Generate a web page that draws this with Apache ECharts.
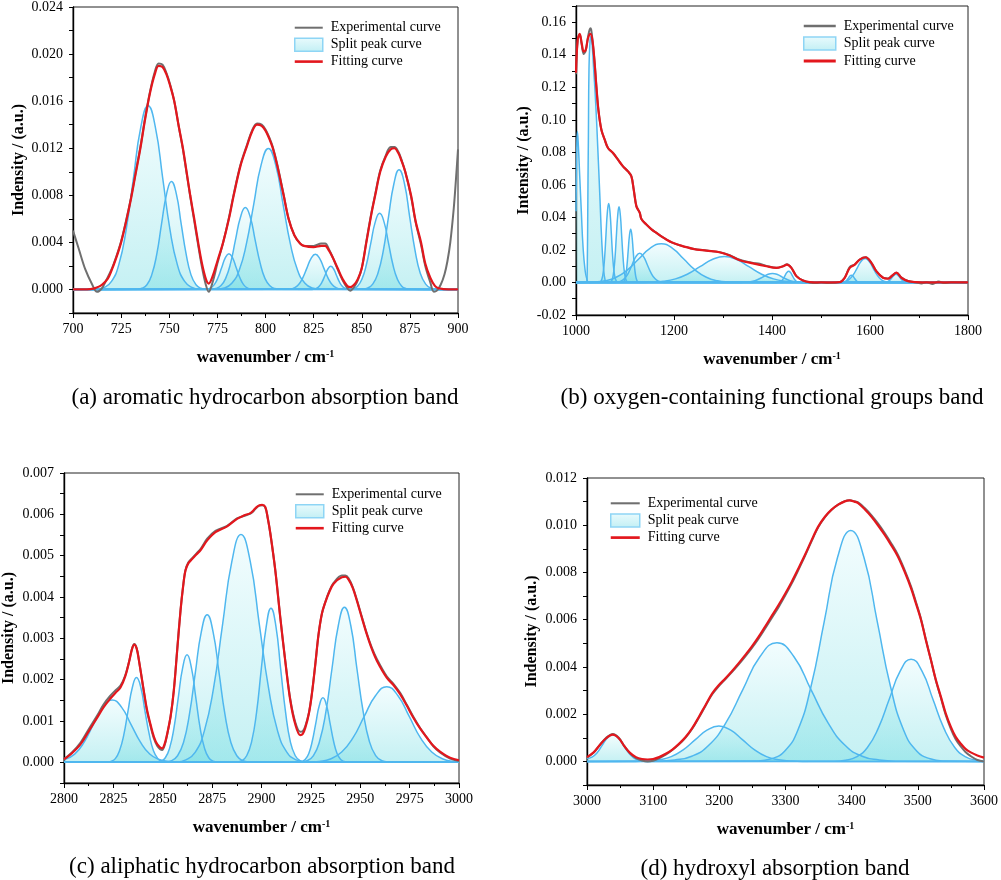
<!DOCTYPE html>
<html>
<head>
<meta charset="utf-8">
<script src="https://cdn.jsdelivr.net/npm/echarts@6/dist/echarts.min.js"></script>
<style>html,body{margin:0;padding:0;background:#fff}#c{width:1001px;height:880px}</style>
</head>
<body>
<div id="c"></div>
<script>
// ---------------- Panel (a): 700-900 cm-1 ----------------
const aFit = [[700,0],[705,0],[709,0.00003],[712,0.00015],[715,0.0004],[718,0.0009],[720,0.0016],[722.5,0.0027],[725,0.0040],[727.5,0.0057],[730,0.0076],[732.5,0.0098],[735,0.0120],[737.5,0.0145],[740,0.0167],[742.5,0.0183],[744.5,0.0190],[746.5,0.0189],[748.5,0.0183],[750.5,0.0173],[752.6,0.0160],[755,0.0138],[757.1,0.0120],[759,0.0100],[760.9,0.0080],[763,0.0060],[765,0.0040],[767,0.0022],[769,0.0009],[770.5,0.0005],[772.5,0.0011],[775,0.0024],[778,0.0040],[781,0.0060],[783.5,0.0080],[787,0.0105],[790.4,0.0122],[793,0.0134],[795.6,0.0140],[798,0.0139],[800,0.0135],[802,0.0128],[803.8,0.0120],[806,0.0106],[809.4,0.0080],[812,0.0060],[815,0.0046],[818,0.0039],[820,0.0037],[825,0.0036],[829,0.0037],[831,0.0037],[833,0.0033],[835,0.0027],[837.5,0.0018],[840,0.0009],[842.5,0.0003],[844,0.0002],[846,0.0004],[848,0.0009],[850,0.0018],[852.4,0.0040],[855,0.0064],[857,0.0080],[859.6,0.0100],[862.5,0.0113],[865,0.0119],[867,0.0120],[869,0.0116],[870.5,0.0110],[872.6,0.0100],[875.6,0.0080],[878,0.0058],[880.8,0.0040],[883,0.0022],[885.6,0.0010],[888,0.0003],[890,0.0001],[895,0],[900,0]];
const aExp = [[700,0.005],[702.9,0.0035],[706.4,0.0017],[709.9,0.00045],[712.5,-0.0002],[715,0.0001],[717,0.0007],[720,0.0017],[722.5,0.0028],[725,0.0041],[727.5,0.0058],[730,0.0077],[732.5,0.0099],[735,0.0121],[737.5,0.0146],[740,0.0168],[742.5,0.0185],[744.5,0.0192],[746.5,0.0191],[748.5,0.0184],[750.5,0.0174],[752.6,0.0160],[755,0.0138],[757.1,0.0119],[759,0.0099],[760.9,0.0079],[763,0.0058],[765,0.0038],[767,0.0019],[769,0.0004],[770.5,-0.0002],[772.5,0.0006],[775,0.0022],[778,0.0040],[781,0.0061],[783.5,0.0081],[787,0.0106],[790.4,0.0123],[793,0.0135],[795.6,0.0141],[798,0.0140],[800,0.0136],[802,0.0129],[803.8,0.0121],[806,0.0107],[809.4,0.0081],[812,0.0060],[815,0.0046],[818,0.0039],[820,0.0037],[825,0.0037],[829,0.0039],[831,0.0039],[833,0.0034],[835,0.0027],[837.5,0.0017],[840,0.0008],[842.5,0.0001],[844,-0.0001],[846,0.0002],[848,0.0008],[850,0.0018],[852.4,0.0041],[855,0.0065],[857,0.0081],[859.6,0.0101],[862.5,0.0114],[865,0.0121],[867,0.0121],[869,0.0117],[870.5,0.0111],[872.6,0.0100],[875.6,0.0079],[878,0.0057],[880.8,0.0038],[883,0.002],[885.6,0.0006],[887.5,-0.0002],[889,-0.0001],[891,0.0004],[893,0.0013],[894.5,0.0024],[896,0.004],[897.8,0.0069],[899,0.0095],[900,0.0119]];
const aPeak1 = [[700,0],[712.4,0.00003],[716.2,0.00017],[720.0,0.00068],[723.8,0.00211],[727.6,0.00507],[731.4,0.00946],[735.2,0.01377],[739.0,0.0156],[742.8,0.01377],[746.6,0.00946],[750.4,0.00507],[754.2,0.00211],[758.0,0.00068],[761.8,0.00017],[765.6,0.00003],[900,0]];
const aPeak2 = [[700,0],[733.3,0.00002],[735.8,0.0001],[738.4,0.0004],[740.9,0.00124],[743.5,0.00298],[746.0,0.00557],[748.6,0.0081],[751.1,0.00918],[753.7,0.0081],[756.2,0.00557],[758.8,0.00298],[761.3,0.00124],[763.9,0.0004],[766.4,0.0001],[769.0,0.00002],[900,0]];
const aPeak3 = [[700,0],[767.7,0.00001],[769.6,0.00003],[771.5,0.00013],[773.4,0.00041],[775.3,0.00099],[777.2,0.00184],[779.1,0.00268],[781.0,0.00304],[782.9,0.00268],[784.8,0.00184],[786.7,0.00099],[788.6,0.00041],[790.5,0.00013],[792.4,0.00003],[794.3,0.00001],[900,0]];
const aPeak4 = [[700,0],[771.7,0.00002],[774.2,0.00008],[776.8,0.00031],[779.3,0.00094],[781.9,0.00226],[784.4,0.00422],[787.0,0.00614],[789.5,0.00696],[792.1,0.00614],[794.6,0.00422],[797.2,0.00226],[799.7,0.00094],[802.3,0.00031],[804.8,0.00008],[807.4,0.00002],[900,0]];
const aPeak5 = [[700,0],[774.9,0.00003],[778.7,0.00013],[782.5,0.00053],[786.3,0.00162],[790.1,0.00389],[793.9,0.00726],[797.7,0.01056],[801.5,0.01197],[805.3,0.01056],[809.1,0.00726],[812.9,0.00389],[816.7,0.00162],[820.5,0.00053],[824.3,0.00013],[828.1,0.00003],[900,0]];
const aPeak6 = [[700,0],[810.5,0.00001],[812.7,0.00003],[814.9,0.00013],[817.1,0.0004],[819.3,0.00097],[821.5,0.00181],[823.7,0.00264],[825.9,0.00299],[828.1,0.00264],[830.3,0.00181],[832.5,0.00097],[834.7,0.0004],[836.9,0.00013],[839.1,0.00003],[841.3,0.00001],[900,0]];
const aPeak7 = [[700,0],[823.4,0],[824.9,0.00002],[826.4,0.00009],[827.9,0.00027],[829.4,0.00064],[830.9,0.00119],[832.4,0.00174],[833.9,0.00197],[835.4,0.00174],[836.9,0.00119],[838.4,0.00064],[839.9,0.00027],[841.4,0.00009],[842.9,0.00002],[844.4,0],[900,0]];
const aPeak8 = [[700,0],[843.2,0.00001],[845.5,0.00007],[847.8,0.00028],[850.1,0.00088],[852.4,0.0021],[854.7,0.00393],[857.0,0.00572],[859.3,0.00648],[861.6,0.00572],[863.9,0.00393],[866.2,0.0021],[868.5,0.00088],[870.8,0.00028],[873.1,0.00007],[875.4,0.00001],[900,0]];
const aPeak9 = [[700,0],[850.2,0.00002],[852.9,0.00011],[855.7,0.00045],[858.4,0.00138],[861.2,0.0033],[863.9,0.00617],[866.7,0.00898],[869.4,0.01017],[872.2,0.00898],[874.9,0.00617],[877.7,0.0033],[880.4,0.00138],[883.2,0.00045],[885.9,0.00011],[888.7,0.00002],[900,0]];

// ---------------- Panel (b): 1000-1800 cm-1 ----------------
const bFit = [[1000,0.129],[1003.4,0.1492],[1007.6,0.1529],[1011.6,0.1471],[1015.7,0.142],[1019.8,0.143],[1024.5,0.1502],[1029.3,0.1529],[1033.4,0.1492],[1037.5,0.1369],[1041.6,0.1205],[1045.7,0.1062],[1051.8,0.0939],[1058.6,0.0878],[1065.3,0.0827],[1075.5,0.0796],[1085.7,0.0755],[1095.9,0.0714],[1106.1,0.0683],[1113,0.0653],[1117.8,0.0571],[1123.3,0.0468],[1130,0.043],[1133.5,0.039],[1143.7,0.0356],[1154,0.0327],[1164.1,0.0305],[1175,0.0282],[1184.5,0.0264],[1195,0.0247],[1211.6,0.0229],[1238.8,0.0207],[1266.1,0.0196],[1293.3,0.0186],[1313.7,0.0166],[1334.1,0.0137],[1361.2,0.0117],[1388.6,0.010],[1409,0.009],[1422.5,0.010],[1430.6,0.011],[1439.6,0.009],[1449.8,0.0039],[1463.3,0.0012],[1477,0.0002],[1500,0],[1538.2,0.0002],[1548.4,0.0029],[1558.6,0.009],[1568.8,0.011],[1579,0.0141],[1591.2,0.0155],[1602.8,0.0121],[1613,0.0069],[1626.5,0.0029],[1636.7,0.0023],[1645.7,0.0043],[1653.9,0.006],[1664.1,0.0029],[1677.6,0.0008],[1694.7,0.0002],[1720,0],[1800,0]];
const bExp = [[1000,0.128],[1003.4,0.149],[1007.6,0.1525],[1011.6,0.1465],[1015.7,0.1405],[1019.8,0.1425],[1024.5,0.151],[1029.3,0.1563],[1031,0.1555],[1033.4,0.1495],[1037.5,0.137],[1041.6,0.1205],[1045.7,0.1062],[1051.8,0.0939],[1058.6,0.0878],[1065.3,0.0827],[1075.5,0.0796],[1085.7,0.0755],[1095.9,0.0714],[1106.1,0.0683],[1113,0.0653],[1117.8,0.0571],[1123.3,0.0468],[1130,0.043],[1133.5,0.039],[1143.7,0.0356],[1154,0.0327],[1164.1,0.0305],[1175,0.0282],[1184.5,0.0264],[1195,0.0247],[1211.6,0.0229],[1238.8,0.0207],[1266.1,0.0196],[1293.3,0.0186],[1313.7,0.0168],[1334.1,0.014],[1361.2,0.012],[1375,0.0115],[1388.6,0.0102],[1409,0.009],[1422.5,0.010],[1430.6,0.0112],[1439.6,0.009],[1449.8,0.0039],[1463.3,0.0012],[1477,0.0],[1490,-0.0004],[1500,0.0001],[1515,-0.0003],[1538.2,0.0002],[1548.4,0.0029],[1558.6,0.0095],[1568.8,0.011],[1579,0.0141],[1591.2,0.0155],[1602.8,0.0121],[1613,0.0069],[1626.5,0.003],[1636.7,0.0024],[1645.7,0.0043],[1653.9,0.006],[1664.1,0.003],[1677.6,0.0009],[1694.7,0.0],[1705,-0.0006],[1715,0.0002],[1728,-0.0009],[1740,0.0006],[1752,-0.0004],[1765,0.0001],[1800,0]];
const bPeak1 = [[1000,0.0438],[1001.4,0.0796],[1002.9,0.0929],[1004.9,0.0837],[1007.6,0.0653],[1011,0.0428],[1014.3,0.0223],[1018.4,0.008],[1022.4,0.0018],[1026.5,0],[1800,0]];
const bPeak2 = [[1000,0],[1020,0],[1022.4,0.0008],[1023.3,0.0182],[1023.9,0.0387],[1024.5,0.0632],[1025.3,0.0898],[1026.5,0.1308],[1028.6,0.1482],[1030.6,0.1512],[1032.7,0.1471],[1036.1,0.1308],[1040.2,0.1103],[1044.3,0.0837],[1048.4,0.0551],[1052.4,0.0264],[1055.9,0.010],[1059.2,0.0018],[1063,0],[1800,0]];
const bPeak3 = [[1000,0],[1047.5,0.0001],[1050.2,0.0005],[1052.9,0.0021],[1055.7,0.0066],[1058.5,0.0157],[1061.2,0.0294],[1063.9,0.0428],[1066.7,0.0485],[1069.5,0.0428],[1072.2,0.0294],[1074.9,0.0157],[1077.7,0.0066],[1080.5,0.0021],[1083.2,0.0005],[1085.9,0.0001],[1800,0]];
const bPeak4 = [[1000,0],[1068.6,0.0001],[1071.3,0.0005],[1074.1,0.002],[1076.8,0.0063],[1079.6,0.0151],[1082.3,0.0282],[1085.1,0.041],[1087.8,0.0465],[1090.6,0.041],[1093.3,0.0282],[1096.1,0.0151],[1098.8,0.0063],[1101.6,0.002],[1104.3,0.0005],[1107.1,0.0001],[1800,0]];
const bPeak5 = [[1000,0],[1094.1,0.0001],[1096.6,0.0004],[1099.1,0.0014],[1101.6,0.0044],[1104.1,0.0107],[1106.6,0.0199],[1109.1,0.0289],[1111.6,0.0328],[1114.1,0.0289],[1116.6,0.0199],[1119.1,0.0107],[1121.6,0.0044],[1124.1,0.0014],[1126.6,0.0004],[1129.1,0.0001],[1800,0]];
const bPeak6 = [[1000,0],[1075.8,0],[1083.5,0.0002],[1091.3,0.0008],[1099.0,0.0024],[1106.8,0.0058],[1114.5,0.0109],[1122.3,0.0159],[1130,0.018],[1137.8,0.0159],[1145.5,0.0109],[1153.3,0.0058],[1161.0,0.0024],[1168.8,0.0008],[1176.5,0.0002],[1184.3,0],[1800,0]];
const bPeak7 = [[1000,0],[1013,0.0001],[1036,0.0003],[1059,0.001],[1082,0.0032],[1105,0.0077],[1128,0.0144],[1151,0.021],[1174,0.0238],[1197,0.021],[1220,0.0144],[1243,0.0077],[1266,0.0032],[1289,0.001],[1312,0.0003],[1335,0.0001],[1800,0]];
const bPeak8 = [[1000,0],[1128,0],[1153,0.0002],[1178,0.0007],[1203,0.0022],[1228,0.0052],[1253,0.0097],[1278,0.0141],[1303,0.016],[1328,0.0141],[1353,0.0097],[1378,0.0052],[1403,0.0022],[1428,0.0007],[1453,0.0002],[1478,0],[1800,0]];
const bPeak9 = [[1000,0],[1331,0],[1341,0.0001],[1351,0.0002],[1361,0.0007],[1371,0.0018],[1381,0.0033],[1391,0.0049],[1401,0.0055],[1411,0.0049],[1421,0.0033],[1431,0.0018],[1441,0.0007],[1451,0.0002],[1461,0.0001],[1471,0],[1800,0]];
const bPeak10 = [[1000,0],[1407.8,0],[1411.5,0.0001],[1415.3,0.0003],[1419.0,0.0009],[1422.8,0.0022],[1426.5,0.0042],[1430.3,0.0061],[1434,0.0069],[1437.8,0.0061],[1441.5,0.0042],[1445.3,0.0022],[1449.0,0.0009],[1452.8,0.0003],[1456.5,0.0001],[1460.3,0],[1800,0]];
const bPeak11 = [[1000,0],[1541,0],[1544,0],[1547,0.0002],[1550,0.0006],[1553,0.0015],[1556,0.0027],[1559,0.004],[1562,0.0045],[1565,0.004],[1568,0.0027],[1571,0.0015],[1574,0.0006],[1577,0.0002],[1580,0],[1583,0],[1800,0]];
const bPeak12 = [[1000,0],[1534,0],[1542,0.0002],[1550,0.0006],[1558,0.002],[1566,0.0048],[1574,0.009],[1582,0.0131],[1590,0.0148],[1598,0.0131],[1606,0.009],[1614,0.0048],[1622,0.002],[1630,0.0006],[1638,0.0002],[1646,0],[1800,0]];
const bPeak13 = [[1000,0],[1625,0],[1629,0.0001],[1633,0.0002],[1637,0.0007],[1641,0.0016],[1645,0.003],[1649,0.0044],[1653,0.005],[1657,0.0044],[1661,0.003],[1665,0.0016],[1669,0.0007],[1673,0.0002],[1677,0.0001],[1681,0],[1800,0]];

// ---------------- Panel (c): 2800-3000 cm-1 ----------------
const cFit = [[2800,0.00007],[2804,0.00022],[2808.4,0.00044],[2812.5,0.00075],[2816.8,0.00108],[2820,0.00133],[2823.6,0.00155],[2826,0.00168],[2828.6,0.00181],[2831,0.00208],[2832.9,0.00242],[2834.5,0.00275],[2835.6,0.00285],[2836.8,0.00275],[2837.9,0.00248],[2840.4,0.00173],[2842,0.00128],[2843.8,0.00092],[2845.5,0.00062],[2847.2,0.00044],[2849.7,0.00034],[2851,0.00045],[2852.2,0.00068],[2854,0.00112],[2855.6,0.00173],[2857.3,0.0027],[2859,0.00367],[2860.3,0.00425],[2861.5,0.00464],[2863,0.00482],[2864.9,0.00492],[2867,0.00503],[2869.1,0.00513],[2872.5,0.00537],[2876.7,0.00557],[2882.6,0.00571],[2887.6,0.00589],[2891,0.00597],[2894.4,0.00603],[2896,0.0061],[2897.7,0.00618],[2899,0.00622],[2900.3,0.00623],[2901.9,0.00618],[2903.2,0.0059],[2904.5,0.00553],[2907,0.00464],[2909.5,0.00351],[2912,0.00246],[2914.6,0.00149],[2917.1,0.00092],[2919.6,0.00066],[2920.8,0.00068],[2922.2,0.00084],[2924,0.00118],[2925.5,0.00165],[2927.2,0.00235],[2928.9,0.0031],[2930.6,0.0036],[2932.3,0.00387],[2934.3,0.00412],[2936.5,0.00432],[2940.7,0.00448],[2942.5,0.00449],[2944.1,0.00442],[2946.2,0.00422],[2948.3,0.00391],[2950.8,0.0035],[2953.3,0.0031],[2955.8,0.00275],[2958.4,0.00246],[2963.4,0.00205],[2966.8,0.00187],[2970.2,0.00165],[2973.5,0.00138],[2976.9,0.00108],[2980.3,0.00082],[2983.7,0.0006],[2987,0.0004],[2990.4,0.00026],[2995.5,0.00011],[3000,0.00005]];
const cExp = [[2800,0.00008],[2804,0.00024],[2808.4,0.00048],[2812.5,0.0008],[2816.8,0.00113],[2820,0.0014],[2823.6,0.00162],[2826,0.00174],[2828.6,0.00186],[2831,0.0021],[2832.9,0.00243],[2834.5,0.00276],[2835.6,0.00286],[2836.8,0.00276],[2837.9,0.00248],[2840.4,0.00172],[2842,0.00125],[2843.8,0.00088],[2845.5,0.00058],[2847.2,0.0004],[2849.7,0.0003],[2851,0.00042],[2852.2,0.00066],[2854,0.00112],[2855.6,0.00175],[2857.3,0.00272],[2859,0.00368],[2860.3,0.00426],[2861.5,0.00465],[2863,0.00484],[2864.9,0.00494],[2867,0.00505],[2869.1,0.00516],[2872.5,0.00541],[2876.7,0.0056],[2882.6,0.00572],[2887.6,0.0059],[2891,0.00596],[2894.4,0.00602],[2896,0.00608],[2897.7,0.00617],[2899,0.00621],[2900.3,0.00622],[2901.9,0.00617],[2903.2,0.0059],[2904.5,0.00553],[2907,0.00464],[2909.5,0.00351],[2912,0.00247],[2914.6,0.00152],[2917.1,0.00097],[2919.6,0.00074],[2920.8,0.00075],[2922.2,0.00088],[2924,0.0012],[2925.5,0.00166],[2927.2,0.00236],[2928.9,0.0031],[2930.6,0.0036],[2932.3,0.00388],[2934.3,0.00414],[2936.5,0.00434],[2940.7,0.00452],[2942.5,0.00452],[2944.1,0.00445],[2946.2,0.00424],[2948.3,0.00393],[2950.8,0.00352],[2953.3,0.00312],[2955.8,0.00278],[2958.4,0.0025],[2963.4,0.00208],[2966.8,0.0019],[2970.2,0.00168],[2973.5,0.0014],[2976.9,0.0011],[2980.3,0.00083],[2983.7,0.0006],[2987,0.00039],[2990.4,0.00024],[2995.5,0.00009],[3000,0.00003]];
const cPeak1 = [[2800,0.00006],[2805.4,0.0002],[2810.2,0.00049],[2814.9,0.00092],[2819.7,0.00133],[2824.4,0.00151],[2829.2,0.00133],[2833.9,0.00092],[2838.7,0.00049],[2843.4,0.0002],[2848.2,0.00007],[2852.9,0.00002],[2857.7,0],[3000,0]];
const cPeak2 = [[2800,0],[2821.7,0],[2823.8,0.00002],[2826.0,0.00009],[2828.1,0.00028],[2830.3,0.00067],[2832.4,0.00124],[2834.6,0.00181],[2836.7,0.00205],[2838.9,0.00181],[2841.0,0.00124],[2843.2,0.00067],[2845.3,0.00028],[2847.5,0.00009],[2849.6,0.00002],[2851.8,0],[3000,0]];
const cPeak3 = [[2800,0],[2846.9,0.00001],[2849.1,0.00003],[2851.3,0.00011],[2853.5,0.00035],[2855.7,0.00084],[2857.9,0.00158],[2860.1,0.00229],[2862.3,0.0026],[2864.5,0.00229],[2866.7,0.00158],[2868.9,0.00084],[2871.1,0.00035],[2873.3,0.00011],[2875.5,0.00003],[2877.7,0.00001],[3000,0]];
const cPeak4 = [[2800,0],[2851.5,0.00001],[2854.5,0.00004],[2857.5,0.00016],[2860.5,0.00048],[2863.5,0.00116],[2866.5,0.00217],[2869.5,0.00315],[2872.5,0.00357],[2875.5,0.00315],[2878.5,0.00217],[2881.5,0.00116],[2884.5,0.00048],[2887.5,0.00016],[2890.5,0.00004],[2893.5,0.00001],[3000,0]];
const cPeak5 = [[2800,0],[2857.1,0.00001],[2861.7,0.00006],[2866.4,0.00024],[2871.0,0.00075],[2875.7,0.00179],[2880.3,0.00334],[2885.0,0.00486],[2889.6,0.00551],[2894.3,0.00486],[2898.9,0.00334],[2903.6,0.00179],[2908.2,0.00075],[2912.9,0.00024],[2917.5,0.00006],[2922.2,0.00001],[3000,0]];
const cPeak6 = [[2800,0],[2887.7,0.00001],[2890.1,0.00004],[2892.5,0.00016],[2895.0,0.0005],[2897.5,0.00121],[2899.9,0.00226],[2902.4,0.00329],[2904.8,0.00373],[2907.3,0.00329],[2909.7,0.00226],[2912.2,0.00121],[2914.6,0.0005],[2917.1,0.00016],[2919.5,0.00004],[2922.0,0.00001],[3000,0]];
const cPeak7 = [[2800,0],[2918.5,0],[2920.3,0.00002],[2922.1,0.00007],[2923.9,0.00021],[2925.7,0.00051],[2927.5,0.00095],[2929.3,0.00138],[2931.1,0.00156],[2932.9,0.00138],[2934.7,0.00095],[2936.5,0.00051],[2938.3,0.00021],[2940.1,0.00007],[2941.9,0.00002],[2943.7,0],[3000,0]];
const cPeak8 = [[2800,0],[2920.0,0.00001],[2923.1,0.00004],[2926.3,0.00016],[2929.4,0.00051],[2932.6,0.00122],[2935.7,0.00227],[2938.9,0.00331],[2942.0,0.00375],[2945.2,0.00331],[2948.3,0.00227],[2951.5,0.00122],[2954.6,0.00051],[2957.8,0.00016],[2960.9,0.00004],[2964.1,0.00001],[3000,0]];
const cPeak9 = [[2800,0],[2923.5,0],[2929.2,0.00002],[2934.9,0.00008],[2940.6,0.00025],[2946.3,0.00059],[2952.0,0.00111],[2957.7,0.00161],[2963.4,0.00183],[2969.1,0.00161],[2974.8,0.00111],[2980.5,0.00059],[2986.2,0.00025],[2991.9,0.00008],[2997.6,0.00002],[3000,0.00001]];

// ---------------- Panel (d): 3000-3600 cm-1 ----------------
const dFit = [[3000,0.00018],[3010,0.00038],[3019,0.00068],[3029,0.00098],[3039,0.00113],[3048,0.00098],[3056.6,0.00064],[3065,0.00036],[3074,0.00018],[3083,0.0001],[3091.6,0.00008],[3100,0.0001],[3109,0.00018],[3119,0.00032],[3129,0.0005],[3139,0.00074],[3149,0.00103],[3159,0.00141],[3169,0.00188],[3179,0.00238],[3189,0.00287],[3199,0.00322],[3209,0.00351],[3219,0.00382],[3229,0.00415],[3239,0.0045],[3249,0.00486],[3259,0.00526],[3269,0.0057],[3279,0.00615],[3289.5,0.00662],[3299.5,0.0071],[3309.5,0.00761],[3319.5,0.00817],[3329.5,0.00875],[3339.5,0.00937],[3349.6,0.00995],[3359.6,0.01036],[3369.6,0.01066],[3379.6,0.01087],[3389.6,0.01101],[3397,0.01105],[3404,0.011],[3409.7,0.01094],[3419.7,0.01068],[3429.7,0.01037],[3439.7,0.01],[3449.7,0.0096],[3459.7,0.00916],[3469.8,0.00868],[3479.8,0.00805],[3489.8,0.00733],[3497,0.0067],[3504.8,0.00599],[3512,0.00515],[3519.8,0.00429],[3527,0.00348],[3534.9,0.00273],[3542,0.00205],[3549.9,0.00146],[3557,0.00105],[3564.9,0.00075],[3572,0.00053],[3580,0.00038],[3590,0.00025],[3600,0.00016]];
const dExp = [[3000,0.00016],[3010,0.00037],[3019,0.00068],[3029,0.001],[3039,0.00116],[3048,0.001],[3056.6,0.00064],[3065,0.00034],[3074,0.00014],[3083,0.00004],[3091.6,0.0],[3100,0.00003],[3109,0.00013],[3119,0.00028],[3129,0.00048],[3139,0.00072],[3149,0.00101],[3159,0.00138],[3169,0.00185],[3179,0.00235],[3189,0.00283],[3199,0.00318],[3209,0.00348],[3219,0.00378],[3229,0.0041],[3239,0.00444],[3249,0.0048],[3259,0.00519],[3269,0.00562],[3279,0.00606],[3289.5,0.00653],[3299.5,0.00702],[3309.5,0.00754],[3319.5,0.00811],[3329.5,0.0087],[3339.5,0.00933],[3349.6,0.00992],[3359.6,0.01034],[3369.6,0.01065],[3379.6,0.01087],[3389.6,0.01102],[3397,0.01106],[3404,0.01102],[3409.7,0.01097],[3419.7,0.01073],[3429.7,0.01043],[3439.7,0.01008],[3449.7,0.00968],[3459.7,0.00924],[3469.8,0.00875],[3479.8,0.00812],[3489.8,0.0074],[3497,0.00676],[3504.8,0.00603],[3512,0.00518],[3519.8,0.00429],[3527,0.00345],[3534.9,0.00268],[3542,0.00198],[3549.9,0.00138],[3557,0.00095],[3564.9,0.00063],[3572,0.0004],[3580,0.00022],[3590,0.00006],[3600,0.0]];
const dPeak1 = [[3000,0.00012],[3007.4,0.00018],[3015.3,0.00037],[3023.2,0.00069],[3031.1,0.001],[3039,0.00113],[3046.9,0.001],[3054.8,0.00069],[3062.7,0.00037],[3070.6,0.00015],[3078.5,0.00005],[3086.4,0.00001],[3094.3,0],[3600,0]];
const dPeak2 = [[3000,0],[3073.3,0],[3091.3,0.00002],[3109.3,0.00007],[3127.3,0.0002],[3145.3,0.00049],[3163.3,0.00091],[3181.3,0.00132],[3199.3,0.0015],[3217.3,0.00132],[3235.3,0.00091],[3253.3,0.00049],[3271.3,0.0002],[3289.3,0.00007],[3307.3,0.00002],[3325.3,0],[3600,0]];
const dPeak3 = [[3000,0],[3106.8,0.00001],[3132.5,0.00006],[3158.3,0.00022],[3184.0,0.00068],[3209.8,0.00163],[3235.5,0.00304],[3261.3,0.00443],[3287.0,0.00502],[3312.8,0.00443],[3338.5,0.00304],[3364.3,0.00163],[3390.0,0.00068],[3415.8,0.00022],[3441.5,0.00006],[3467.3,0.00001],[3600,0]];
const dPeak4 = [[3000,0],[3258.6,0.00002],[3278.6,0.00011],[3298.6,0.00043],[3318.6,0.00132],[3338.6,0.00318],[3358.6,0.00593],[3378.6,0.00863],[3398.6,0.00978],[3418.6,0.00863],[3438.6,0.00593],[3458.6,0.00318],[3478.6,0.00132],[3498.6,0.00043],[3518.6,0.00011],[3538.6,0.00002],[3600,0]];
const dPeak5 = [[3000,0],[3374.3,0.00001],[3390.8,0.00005],[3407.3,0.00019],[3423.8,0.00059],[3440.3,0.00141],[3456.8,0.00263],[3473.3,0.00382],[3489.8,0.00433],[3506.3,0.00382],[3522.8,0.00263],[3539.3,0.00141],[3555.8,0.00059],[3572.3,0.00019],[3588.8,0.00005],[3600,0.00002]];

// ---------------- Texts ----------------
const legendNames = ['Experimental curve', 'Split peak curve', 'Fitting curve'];
const yTitles = ['Indensity / (a.u.)', 'Intensity / (a.u.)', 'Indensity / (a.u.)', 'Indensity / (a.u.)'];
const xTitle = 'wavenumber / cm{sup|-1}';
const captions = ['(a) aromatic hydrocarbon absorption band', '(b) oxygen-containing functional groups band', '(c) aliphatic hydrocarbon absorption band', '(d) hydroxyl absorption band'];

// axis ranges per panel
const xRanges = [[700, 900, 25], [1000, 1800, 200], [2800, 3000, 25], [3000, 3600, 100]];
const yRanges = [[-0.002, 0.024, 0.002, 0.004, 3], [-0.02, 0.17, 0.01, 0.02, 2], [-0.0005, 0.007, 0.0005, 0.001, 3], [-0.001, 0.012, 0.001, 0.002, 3]];

const fitSets = [aFit, bFit, cFit, dFit];
const expSets = [aExp, bExp, cExp, dExp];
const peakSets = [
  [aPeak1, aPeak2, aPeak3, aPeak4, aPeak5, aPeak6, aPeak7, aPeak8, aPeak9],
  [bPeak1, bPeak2, bPeak3, bPeak4, bPeak5, bPeak6, bPeak7, bPeak8, bPeak9, bPeak10, bPeak11, bPeak12, bPeak13],
  [cPeak1, cPeak2, cPeak3, cPeak4, cPeak5, cPeak6, cPeak7, cPeak8, cPeak9],
  [dPeak1, dPeak2, dPeak3, dPeak4, dPeak5]
];

// ---------------- Layout / style ----------------
const FONT = '"Times New Roman", "Liberation Serif", serif';
const grids = [
  {left: 73, top: 5, width: 385, height: 308},
  {left: 576, top: 6, width: 392, height: 309},
  {left: 63, top: 473, width: 396, height: 310},
  {left: 587, top: 478, width: 400, height: 307}
];
const legendPos = [
  {left: 294, top: 20.7, itemWidth: 28, itemGap: 2.7},
  {left: 803, top: 19, itemWidth: 32, itemGap: 3.2},
  {left: 295, top: 487.3, itemWidth: 28, itemGap: 2.7},
  {left: 610, top: 496.3, itemWidth: 29, itemGap: 2.9}
];
const yNameGaps = [46, 44, 47, 47];
const captionPos = [[265, 398], [772, 398], [262, 867], [775, 869]];

const peakFill = {type: 'linear', x: 0, y: 0, x2: 0, y2: 1, colorStops: [
  {offset: 0, color: 'rgba(222,249,252,0.55)'}, {offset: 1, color: 'rgba(105,218,224,0.55)'}]};
const legendBoxFill = {type: 'linear', x: 0, y: 0, x2: 0, y2: 1, colorStops: [
  {offset: 0, color: '#eafbfd'}, {offset: 1, color: '#c2eff4'}]};

const option = {
  animation: false,
  backgroundColor: '#ffffff',
  textStyle: {fontFamily: FONT, color: '#000'},
  grid: [], xAxis: [], yAxis: [], legend: [], series: [], graphic: []
};

for (let i = 0; i < 4; i++) {
  option.grid.push(Object.assign({show: true, borderColor: '#222', borderWidth: 1, backgroundColor: 'transparent', containLabel: false}, grids[i]));
  const xr = xRanges[i], yr = yRanges[i];
  option.xAxis.push({
    type: 'value', gridIndex: i, min: xr[0], max: xr[1], interval: xr[2],
    axisLine: {onZero: false, lineStyle: {color: '#000', width: 1.4}},
    axisTick: {inside: false, length: 5, lineStyle: {color: '#000', width: 1}},
    minorTick: {show: true, splitNumber: 2, length: 3, lineStyle: {color: '#000', width: 1}},
    splitLine: {show: false},
    axisLabel: {fontFamily: FONT, fontSize: 14, color: '#000', margin: 9,
      formatter: function (v) { return String(Math.round(v)); }},
    name: xTitle, nameLocation: 'middle', nameGap: 36,
    nameTextStyle: {fontFamily: FONT, fontSize: 17, fontWeight: 'bold', color: '#000',
      rich: {sup: {fontFamily: FONT, fontSize: 10, fontWeight: 'bold', color: '#000', verticalAlign: 'top', lineHeight: 12}}}
  });
  const step = yr[3], dec = yr[4];
  option.yAxis.push({
    type: 'value', gridIndex: i, min: yr[0], max: yr[1], interval: yr[2],
    axisLine: {onZero: false, lineStyle: {color: '#000', width: 1.4}},
    axisTick: {inside: false, length: 4, lineStyle: {color: '#000', width: 1}},
    splitLine: {show: false},
    axisLabel: {fontFamily: FONT, fontSize: 14, color: '#000', margin: 10,
      formatter: function (v) {
        const r = v / step;
        if (Math.abs(r - Math.round(r)) > 1e-6) return '';
        const vv = Math.abs(v) < 1e-12 ? 0 : v;
        return vv.toFixed(dec);
      }},
    name: yTitles[i], nameLocation: 'middle', nameGap: yNameGaps[i],
    nameTextStyle: {fontFamily: FONT, fontSize: 16, fontWeight: 'bold', color: '#000'}
  });
  const lp = legendPos[i];
  option.legend.push({
    orient: 'vertical', left: lp.left, top: lp.top, padding: 0,
    itemWidth: lp.itemWidth, itemHeight: 13, itemGap: lp.itemGap, selectedMode: false,
    textStyle: {fontFamily: FONT, fontSize: 14, color: '#000', padding: [0, 0, 0, 3]},
    data: [
      {name: legendNames[0], icon: 'path://M0,0H28V2H0Z', itemStyle: {color: '#6f6f6f', borderWidth: 0}},
      {name: legendNames[1], icon: 'rect', itemStyle: {color: legendBoxFill, borderColor: '#8ed5f5', borderWidth: 1.5}},
      {name: legendNames[2], icon: 'path://M0,0H28V2.6H0Z', itemStyle: {color: '#e3171d', borderWidth: 0}}
    ]
  });
  peakSets[i].forEach(function (pk) {
    option.series.push({
      type: 'line', name: legendNames[1], xAxisIndex: i, yAxisIndex: i, data: pk,
      smooth: 0.5, symbol: 'none', silent: true, z: 2,
      lineStyle: {color: '#4fb7ef', width: 1.5},
      itemStyle: {color: '#4fb7ef'},
      areaStyle: {color: peakFill, origin: 0}
    });
  });
  option.series.push({
    type: 'line', name: legendNames[0], xAxisIndex: i, yAxisIndex: i, data: expSets[i],
    smooth: 0.35, symbol: 'none', silent: true, z: 3,
    lineStyle: {color: '#6f6f6f', width: 2}, itemStyle: {color: '#6f6f6f'}
  });
  option.series.push({
    type: 'line', name: legendNames[2], xAxisIndex: i, yAxisIndex: i, data: fitSets[i],
    smooth: 0.35, symbol: 'none', silent: true, z: 4,
    lineStyle: {color: '#e3171d', width: 2.2}, itemStyle: {color: '#e3171d'}
  });
  option.graphic.push({
    type: 'text', x: captionPos[i][0], y: captionPos[i][1], silent: true,
    style: {text: captions[i], font: '23px ' + FONT, fill: '#000', align: 'center', verticalAlign: 'middle'}
  });
}

const chart = echarts.init(document.getElementById('c'), null, {renderer: 'canvas'});
chart.setOption(option);
</script>
</body>
</html>
